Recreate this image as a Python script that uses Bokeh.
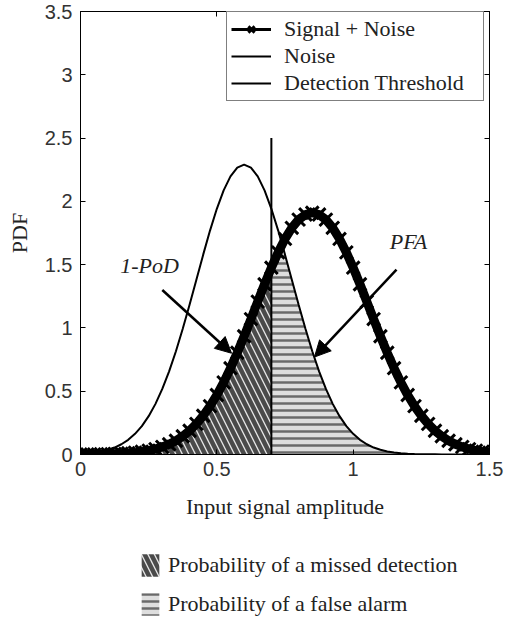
from bokeh.plotting import figure
from bokeh.layouts import column
from bokeh.models import (Range1d, LinearAxis, FixedTicker, Legend, LegendItem,
                          Arrow, NormalHead, Label, ColumnDataSource)
from bokeh.embed import file_html
from bokeh.resources import INLINE

# ---------------- data ----------------
amplitude = [0.0, 0.025, 0.05, 0.075, 0.1, 0.125, 0.15, 0.175, 0.2, 0.225,
             0.25, 0.275, 0.3, 0.325, 0.35, 0.375, 0.4, 0.425, 0.45, 0.475,
             0.5, 0.525, 0.55, 0.575, 0.6, 0.625, 0.65, 0.675, 0.7, 0.725,
             0.75, 0.775, 0.8, 0.825, 0.85, 0.875, 0.9, 0.925, 0.95, 0.975,
             1.0, 1.025, 1.05, 1.075, 1.1, 1.125, 1.15, 1.175, 1.2, 1.225,
             1.25, 1.275, 1.3, 1.325, 1.35, 1.375, 1.4, 1.425, 1.45, 1.475, 1.5]

noise_pdf = [0.006, 0.010, 0.016, 0.024, 0.037, 0.055, 0.081, 0.116, 0.163, 0.224,
             0.303, 0.400, 0.518, 0.657, 0.816, 0.993, 1.183, 1.381, 1.579, 1.769,
             1.941, 2.087, 2.197, 2.266, 2.290, 2.266, 2.197, 2.087, 1.941, 1.769,
             1.579, 1.381, 1.183, 0.993, 0.816, 0.657, 0.518, 0.400, 0.303, 0.224,
             0.163, 0.116, 0.081, 0.055, 0.037, 0.024, 0.016, 0.010, 0.006, 0.003,
             0.002, 0.001, 0.001, 0.0, 0.0, 0.0, 0.0, 0.0, 0.0, 0.0, 0.0]

signal_noise_pdf = [0.000, 0.001, 0.001, 0.002, 0.003, 0.005, 0.007, 0.010, 0.015, 0.022,
                    0.031, 0.043, 0.060, 0.081, 0.109, 0.144, 0.188, 0.242, 0.306, 0.382,
                    0.470, 0.570, 0.682, 0.804, 0.934, 1.070, 1.208, 1.345, 1.476, 1.597,
                    1.703, 1.791, 1.856, 1.896, 1.910, 1.896, 1.856, 1.791, 1.703, 1.597,
                    1.476, 1.345, 1.208, 1.070, 0.934, 0.804, 0.682, 0.570, 0.470, 0.382,
                    0.306, 0.242, 0.188, 0.144, 0.109, 0.081, 0.060, 0.043, 0.031, 0.022, 0.015]

threshold_x = 0.7
threshold_top = 2.5

x_ticks = [0, 0.5, 1, 1.5]
y_ticks = [0, 0.5, 1, 1.5, 2, 2.5, 3, 3.5]
x_tick_labels = {0: "0", 0.5: "0.5", 1: "1", 1.5: "1.5"}
y_tick_labels = {0: "0", 0.5: "0.5", 1: "1", 1.5: "1.5", 2: "2", 2.5: "2.5", 3: "3", 3.5: "3.5"}

# annotation texts and anchor points (data units)
pod_text, pod_pos = "1-PoD", (0.253, 1.49)
pod_arrow = (0.30, 1.30, 0.554, 0.80)
pfa_text, pfa_pos = "PFA", (1.203, 1.68)
pfa_arrow = (1.159, 1.46, 0.858, 0.77)

# ---------------- derived regions ----------------
miss_x = [a for a in amplitude if a <= threshold_x + 1e-9]
miss_y = [signal_noise_pdf[i] for i, a in enumerate(amplitude) if a <= threshold_x + 1e-9]
fa_x = [a for a in amplitude if a >= threshold_x - 1e-9]
fa_y = [min(noise_pdf[i], signal_noise_pdf[i]) for i, a in enumerate(amplitude)
        if a >= threshold_x - 1e-9]

SERIF = "Liberation Serif"
SANS = "Liberation Sans"
MISS_STYLE = dict(fill_color="#e6e6e6", hatch_pattern="left_diagonal_line",
                  hatch_color="#4a4a4a", hatch_weight=4.5, hatch_scale=13)
FA_STYLE = dict(fill_color="#dedede", hatch_pattern="horizontal_line",
                hatch_color="#6a6a6a", hatch_weight=2.5, hatch_scale=7)

p = figure(width=507, height=529, x_range=Range1d(0, 1.5), y_range=Range1d(0, 3.5),
           output_backend="svg", toolbar_location=None,
           min_border_left=80, min_border_right=18, min_border_top=11, min_border_bottom=75)
p.xgrid.visible = False
p.ygrid.visible = False
p.outline_line_color = "black"
p.background_fill_color = "white"
p.border_fill_color = "white"

# hatched regions
miss_r = p.varea(x=miss_x, y1=[0] * len(miss_x), y2=miss_y, **MISS_STYLE)
fa_r = p.varea(x=fa_x, y1=[0] * len(fa_x), y2=fa_y, **FA_STYLE)

src = ColumnDataSource(dict(x=amplitude, noise=noise_pdf, sn=signal_noise_pdf))

noise_r = p.line("x", "noise", source=src, line_color="black", line_width=2)
thr_r = p.line([threshold_x, threshold_x], [0, threshold_top], line_color="black", line_width=2)
sn_band = p.line("x", "sn", source=src, line_color="black", line_width=9)
sn_line = p.line("x", "sn", source=src, line_color="black", line_width=3)
sn_pts = p.scatter("x", "sn", source=src, marker="x", size=18, line_color="black", line_width=3)

# axes styling
for ax in (p.xaxis[0], p.yaxis[0]):
    ax.major_tick_in = 5
    ax.major_tick_out = 0
    ax.minor_tick_line_color = None
    ax.axis_line_color = "black"
    ax.major_tick_line_color = "black"
    ax.major_label_text_font = SANS
    ax.major_label_text_font_size = "20px"
    ax.major_label_text_color = "#333333"
    ax.axis_label_text_font = SERIF
    ax.axis_label_text_font_size = "22px"
    ax.axis_label_text_font_style = "normal"
    ax.axis_label_text_color = "#222222"

p.xaxis.ticker = FixedTicker(ticks=x_ticks)
p.yaxis.ticker = FixedTicker(ticks=y_ticks)
p.xaxis.major_label_overrides = x_tick_labels
p.yaxis.major_label_overrides = y_tick_labels
p.xaxis.major_label_standoff = 7
p.yaxis.major_label_standoff = 8
p.xaxis.axis_label = "Input signal amplitude"
p.yaxis.axis_label = "PDF"
p.xaxis.axis_label_standoff = 15
p.yaxis.axis_label_standoff = 10

top_ax = LinearAxis(ticker=FixedTicker(ticks=x_ticks), major_tick_in=5, major_tick_out=0,
                    minor_tick_line_color=None, major_label_text_color=None,
                    axis_line_color="black")
right_ax = LinearAxis(ticker=FixedTicker(ticks=y_ticks), major_tick_in=5, major_tick_out=0,
                      minor_tick_line_color=None, major_label_text_color=None,
                      axis_line_color="black")
p.add_layout(top_ax, "above")
p.add_layout(right_ax, "right")

# annotations
for (txt, pos) in ((pod_text, pod_pos), (pfa_text, pfa_pos)):
    p.add_layout(Label(x=pos[0], y=pos[1], text=txt, text_font=SERIF,
                       text_font_style="italic", text_font_size="22px",
                       text_align="center", text_baseline="middle", text_color="#222222"))
for (x0, y0, x1, y1) in (pod_arrow, pfa_arrow):
    p.add_layout(Arrow(end=NormalHead(size=16, fill_color="black", line_color="black"),
                       x_start=x0, y_start=y0, x_end=x1, y_end=y1,
                       line_width=2.5, line_color="black"))

# main legend
leg = Legend(items=[LegendItem(label="Signal + Noise", renderers=[sn_line, sn_pts]),
                    LegendItem(label="Noise", renderers=[noise_r]),
                    LegendItem(label="Detection Threshold", renderers=[thr_r])],
             location=(146, 353), padding=4, spacing=1, margin=0,
             glyph_width=40, glyph_height=22, label_height=22, label_width=195,
             label_standoff=13, label_text_font=SERIF,
             label_text_font_size="22px", label_text_color="#222222",
             border_line_color="black", border_line_width=1.5,
             background_fill_color="white", background_fill_alpha=1)
p.add_layout(leg, "center")

# hatch key below the plot: same regions, drawn in a panel whose view lies
# outside the data so that only the legend swatches are seen
p2 = figure(width=507, height=92, x_range=Range1d(-3, -2), y_range=Range1d(-3, -2),
            output_backend="svg", toolbar_location=None, x_axis_type=None, y_axis_type=None,
            min_border=0)
p2.xgrid.visible = False
p2.ygrid.visible = False
p2.outline_line_color = None
p2.background_fill_color = "white"
p2.border_fill_color = "white"
key_miss = p2.varea(x=miss_x, y1=[0] * len(miss_x), y2=miss_y, **MISS_STYLE)
key_fa = p2.varea(x=fa_x, y1=[0] * len(fa_x), y2=fa_y, **FA_STYLE)
leg2 = Legend(items=[LegendItem(label="Probability of a missed detection", renderers=[key_miss]),
                     LegendItem(label="Probability of a false alarm", renderers=[key_fa])],
              location=(59, 3), padding=0, spacing=11, margin=0,
              glyph_width=22, glyph_height=28, label_height=28, label_standoff=7,
              label_text_font=SERIF, label_text_font_size="22px",
              label_text_color="#222222",
              border_line_color=None, background_fill_alpha=0)
p2.add_layout(leg2, "center")

layout = column(p, p2, spacing=0)
open("out.html", "w").write(file_html(layout, INLINE))
